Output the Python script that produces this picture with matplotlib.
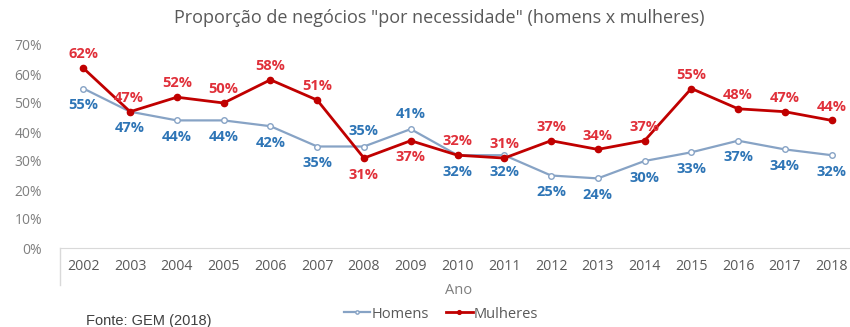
import matplotlib
matplotlib.use("Agg")
import matplotlib.pyplot as plt
from matplotlib.ticker import FuncFormatter

years = ["2002", "2003", "2004", "2005", "2006", "2007", "2008", "2009", "2010",
         "2011", "2012", "2013", "2014", "2015", "2016", "2017", "2018"]
homens = [55, 47, 44, 44, 42, 35, 35, 41, 32, 32, 25, 24, 30, 33, 37, 34, 32]
mulheres = [62, 47, 52, 50, 58, 51, 31, 37, 32, 31, 37, 34, 37, 55, 48, 47, 44]

plt.rcParams['font.family'] = ['Open Sans', 'DejaVu Sans']

fig = plt.figure(figsize=(8.5, 3.27), dpi=100)
W, H = 850, 327
x0, x1 = 60, 855
y0, y1 = 248, 45
ax = fig.add_axes([x0 / W, 1 - y0 / H, (x1 - x0) / W, (y0 - y1) / H])

xs = list(range(len(years)))
blue_line = "#87a3c5"
blue_text = "#2e75b6"
red_line = "#c00000"
red_text = "#e0303a"

ax.plot(xs, homens, color=blue_line, lw=1.6, marker="o", ms=4,
        mfc="white", mec=blue_line, mew=1, label="Homens", zorder=3)
ax.plot(xs, mulheres, color=red_line, lw=2.0, marker="o", ms=4.5,
        mfc=red_line, mec=red_line, label="Mulheres", zorder=4)

ax.set_xlim(-0.5, len(years) - 0.5)
ax.set_ylim(0, 70)
ax.set_yticks(range(0, 71, 10))
ax.yaxis.set_major_formatter(FuncFormatter(lambda v, p: f"{int(v)}%"))
ax.set_xticks(xs)
ax.set_xticklabels(years)

for s in ["top", "right", "left"]:
    ax.spines[s].set_visible(False)
ax.spines["bottom"].set_color("#d9d9d9")
ax.tick_params(axis="y", length=0, pad=13, labelsize=10, labelcolor="#7f7f7f")
ax.tick_params(axis="x", length=0, pad=8, labelsize=10.2, labelcolor="#595959")

# label positions (offsets in points)
h_off = {i: (0, -12) for i in range(len(years))}
h_off[6] = (0, 11)
h_off[7] = (0, 11)
m_off = {i: (0, 10) for i in range(len(years))}
m_off[6] = (0, -12)
m_off[7] = (0, -12)
m_off[1] = (-1, 10)

for i, v in enumerate(homens):
    dx, dy = h_off[i]
    ax.annotate(f"{v}%", (i, v), xytext=(dx, dy), textcoords="offset points",
                ha="center", va="center", fontsize=10.5, fontweight="bold",
                color=blue_text, zorder=5)
for i, v in enumerate(mulheres):
    dx, dy = m_off[i]
    ax.annotate(f"{v}%", (i, v), xytext=(dx, dy), textcoords="offset points",
                ha="center", va="center", fontsize=10.5, fontweight="bold",
                color=red_text, zorder=5)

# category axis left separator line
fig.add_artist(plt.Line2D([x0 / W, x0 / W], [1 - 248 / H, 1 - 285 / H],
                          color="#d9d9d9", lw=1))

fig.text(439 / W, 1 - 18 / H, 'Proporção de negócios "por necessidade" (homens x mulheres)',
         ha="center", va="center", fontsize=13, color="#595959")
fig.text(459 / W, 1 - 290 / H, "Ano", ha="center", va="center",
         fontsize=10.5, color="#7f7f7f")
fig.text(86 / W, 1 - 321 / H, "Fonte: GEM (2018)", ha="left", va="center",
         fontsize=10.5, color="#404040", family=["Liberation Sans", "DejaVu Sans"])

fig.legend(loc="center", bbox_to_anchor=(441 / W, 1 - 314 / H), ncol=2,
           frameon=False, fontsize=10.5, labelcolor="#595959",
           handlelength=1.8, handletextpad=0.1, columnspacing=1.2, markerscale=0.6,
           borderpad=0)

fig.savefig("out.png", dpi=100)
